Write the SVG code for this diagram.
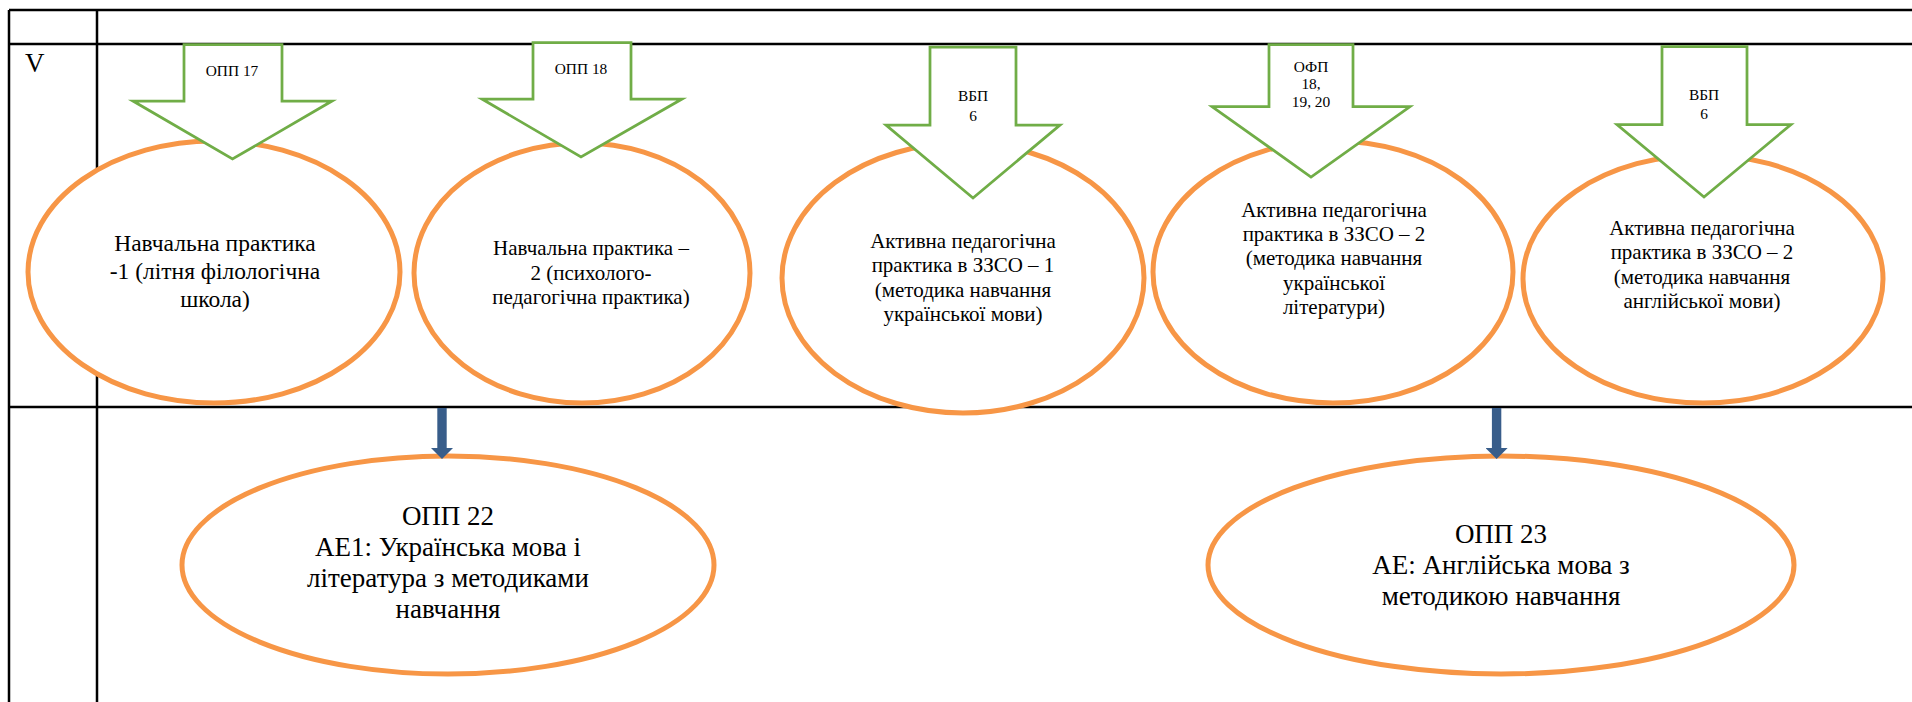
<svg xmlns="http://www.w3.org/2000/svg" width="1912" height="702" viewBox="0 0 1912 702">
<style>
.grid{stroke:#000;stroke-width:2.5;fill:none}
.ell{fill:#fff;stroke:#F79646;stroke-width:5}
.blk{fill:#fff;stroke:#70AD47;stroke-width:2.75;stroke-linejoin:miter}
.conn{stroke:#385D8A;stroke-width:9.4;fill:none}
text{font-family:'Liberation Serif','Times New Roman',Times,Tinos,'Noto Serif','DejaVu Serif',FreeSerif,serif}
.t1{font-size:23.5px}
.t2{font-size:21px}
.t3{font-size:27px}
.lb{font-size:15.4px}
</style>
<defs>
<marker id="ah" markerUnits="userSpaceOnUse" viewBox="0 -11 11 22" refX="0" refY="0" markerWidth="11" markerHeight="22" orient="auto">
<path d="M0,-11 L11,0 L0,11 Z" fill="#385D8A"/>
</marker>
</defs>
<rect width="1912" height="702" fill="#fff"/>
<g fill="#000" text-anchor="middle">
<g id="table">
<line class="grid" x1="9" y1="10" x2="1912" y2="10"/>
<line class="grid" x1="9" y1="44" x2="1912" y2="44"/>
<line class="grid" x1="9" y1="407" x2="1912" y2="407"/>
<line class="grid" x1="9" y1="10" x2="9" y2="702"/>
<line class="grid" x1="97" y1="10" x2="97" y2="702"/>
<text x="25" y="72" font-size="27" text-anchor="start">V</text>
</g>
<g id="node1">
<ellipse class="ell" cx="214" cy="272" rx="186" ry="131"/>
<text class="t1" x="215" y="251">Навчальна практика</text>
<text class="t1" x="215" y="278.7">-1 (літня філологічна</text>
<text class="t1" x="215" y="306.5">школа)</text>
</g>
<g id="node2">
<ellipse class="ell" cx="582" cy="273" rx="168" ry="130"/>
<text class="t2" x="591" y="255">Навчальна практика –</text>
<text class="t2" x="591" y="279.5">2 (психолого-</text>
<text class="t2" x="591" y="304">педагогічна практика)</text>
</g>
<g id="node3">
<ellipse class="ell" cx="963" cy="278" rx="181" ry="135"/>
<text class="t2" x="963" y="248">Активна педагогічна</text>
<text class="t2" x="963" y="272">практика в ЗЗСО – 1</text>
<text class="t2" x="963" y="296.5">(методика навчання</text>
<text class="t2" x="963" y="321">української мови)</text>
</g>
<g id="node4">
<ellipse class="ell" cx="1333" cy="272" rx="180" ry="131"/>
<text class="t2" x="1334" y="216.7">Активна педагогічна</text>
<text class="t2" x="1334" y="241">практика в ЗЗСО – 2</text>
<text class="t2" x="1334" y="265.3">(методика навчання</text>
<text class="t2" x="1334" y="289.7">української</text>
<text class="t2" x="1334" y="314">літератури)</text>
</g>
<g id="node5">
<ellipse class="ell" cx="1703" cy="279" rx="180" ry="124"/>
<text class="t2" x="1702" y="235">Активна педагогічна</text>
<text class="t2" x="1702" y="259.4">практика в ЗЗСО – 2</text>
<text class="t2" x="1702" y="283.8">(методика навчання</text>
<text class="t2" x="1702" y="308.2">англійської мови)</text>
</g>
<g id="node6">
<ellipse class="ell" cx="448" cy="565" rx="266" ry="109"/>
<text class="t3" x="448" y="525">ОПП 22</text>
<text class="t3" x="448" y="556">АЕ1: Українська мова і</text>
<text class="t3" x="448" y="587">література з методиками</text>
<text class="t3" x="448" y="618">навчання</text>
</g>
<g id="node7">
<ellipse class="ell" cx="1501" cy="565" rx="293" ry="109"/>
<text class="t3" x="1501" y="542.5">ОПП 23</text>
<text class="t3" x="1501" y="573.5">АЕ: Англійська мова з</text>
<text class="t3" x="1501" y="604.5">методикою навчання</text>
</g>
<g id="arrowA">
<polygon class="blk" points="184,44.5 282,44.5 282,101 332,101 232.5,159 133,101 184,101"/>
<text class="lb" x="232" y="76">ОПП 17</text>
</g>
<g id="arrowB">
<polygon class="blk" points="533,42.5 631,42.5 631,99 682,99 581,157 482,99 533,99"/>
<text class="lb" x="581" y="74">ОПП 18</text>
</g>
<g id="arrowC">
<polygon class="blk" points="930,47 1016,47 1016,125 1060,125 973,198 886,125 930,125"/>
<text class="lb" x="973" y="101">ВБП</text>
<text class="lb" x="973" y="120.7">6</text>
</g>
<g id="arrowD">
<polygon class="blk" points="1269,44.5 1353,44.5 1353,106.5 1410,106.5 1311,177 1212,106.5 1269,106.5"/>
<text class="lb" x="1311" y="71.5">ОФП</text>
<text class="lb" x="1311" y="89">18,</text>
<text class="lb" x="1311" y="106.5">19, 20</text>
</g>
<g id="arrowE">
<polygon class="blk" points="1662,46.5 1747,46.5 1747,124.5 1791,124.5 1704,197 1617,124.5 1662,124.5"/>
<text class="lb" x="1704" y="100">ВБП</text>
<text class="lb" x="1704" y="119">6</text>
</g>
<g id="connectors">
<line class="conn" x1="442" y1="408" x2="442" y2="448" marker-end="url(#ah)"/>
<line class="conn" x1="1496.6" y1="408" x2="1496.6" y2="448" marker-end="url(#ah)"/>
</g>
</g>
</svg>
